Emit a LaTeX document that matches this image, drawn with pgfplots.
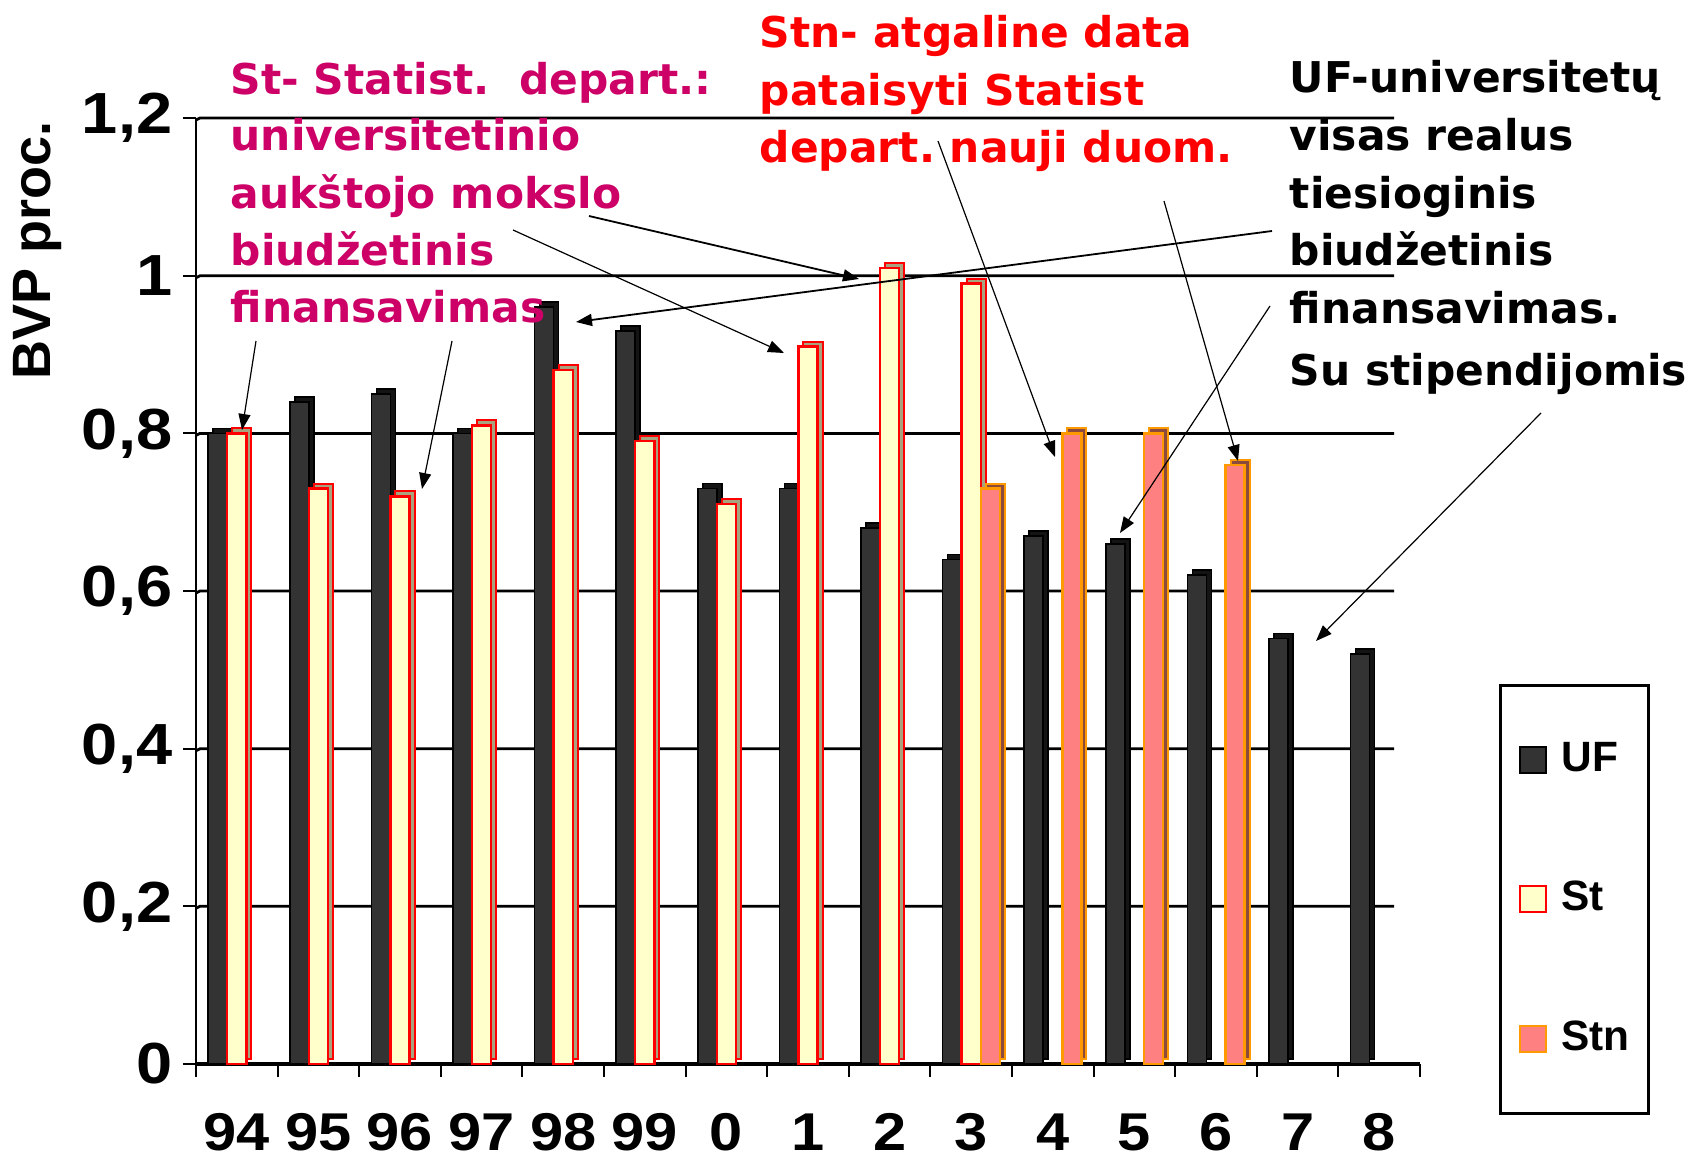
\documentclass[border=0pt]{standalone}
\usepackage{pgfplots}
\pgfplotsset{compat=1.18}
\usepackage{pgfplotstable}
\usepackage{fontspec}
\setmainfont{Liberation Sans}
\newfontfamily\dv{DejaVu Sans}
\newfontfamily\numf{Liberation Sans}[FakeStretch=1.12]
\usetikzlibrary{arrows.meta}
\definecolor{ufc}{HTML}{333333}
\definecolor{stc}{HTML}{FFFFCC}
\definecolor{stnc}{HTML}{FF8080}
\definecolor{stnedge}{HTML}{FF9900}
\definecolor{mag}{HTML}{CC0066}
\definecolor{stside}{HTML}{A8A27E}
\definecolor{stnside}{HTML}{8C4A3C}
\frenchspacing

\pgfplotstableread{
x y
0 0.80
1 0.84
2 0.85
3 0.80
4 0.96
5 0.93
6 0.73
7 0.73
8 0.68
9 0.64
10 0.67
11 0.66
12 0.62
13 0.54
14 0.52
}\uf
\pgfplotstableread{
x y
0 0.80
1 0.73
2 0.72
3 0.81
4 0.88
5 0.79
6 0.71
7 0.91
8 1.01
9 0.99
}\st
\pgfplotstableread{
x y
9 0.73
10 0.80
11 0.80
12 0.76
}\stn

\begin{document}
\begin{tikzpicture}
\begin{scope}[x=0.25pt,y=-0.25pt]
\useasboundingbox (0,0) rectangle (1694,1156);
\coordinate (O) at (196,1064);
% back-wall gridlines
\foreach \g in {906.3,748.7,591.0,433.4,275.7,118.0} {
  \draw[line width=0.7pt] (196,\g+2) -- (200,\g) -- (1394,\g);
}
\end{scope}
\begin{axis}[
  at={(O)}, anchor=south west,
  scale only axis, width=306pt, height=236.5pt,
  xmin=-0.5, xmax=14.5, ymin=0, ymax=1.2,
  axis lines=left, axis line style={-},
  x axis line style={line width=0.8pt},
  y axis line style={line width=0.5pt},
  ybar=0pt, bar width=0.233,
  ytick={0,0.2,0.4,0.6,0.8,1,1.2},
  yticklabels={0,{0,2},{0,4},{0,6},{0,8},1,{1,2}},
  xtick={-0.5,0.5,...,14.5},
  x tick label as interval,
  xticklabels={94,95,96,97,98,99,0,1,2,3,4,5,6,7,8},
  tick align=outside,
  major tick length=3.25pt,
  every tick/.style={black, line width=0.5pt},
  xticklabel style={font=\numf\bfseries\fontsize{13.3}{14}\selectfont, anchor=north, inner sep=0pt, yshift=-9pt},
  yticklabel style={font=\numf\bfseries\fontsize{14.5}{15}\selectfont, anchor=east, inner sep=0pt, xshift=-2.5pt},
  legend style={at={(1.0644,0.4017)}, anchor=north west, draw=black, line width=0.7pt,
    inner xsep=4.7pt, inner ysep=14.2pt, row sep=26pt, column sep=3.5pt,
    font=\bfseries\fontsize{10.6}{11}\selectfont, nodes={inner sep=0pt}},
  legend cell align=left,
  sq/.style={legend image code/.code={\draw[##1, line width=0.6pt] (0pt,-3.25pt) rectangle (6.5pt,3.25pt);}},
]
\addplot[forget plot, fill=black!92, draw=black, line width=0.4pt, bar shift=-0.233, xshift=1.25pt, yshift=1.25pt] table[x=x,y=y] {\uf};
\addplot[forget plot, fill=stside, draw=red, line width=0.5pt, bar shift=0, xshift=1.25pt, yshift=1.25pt] table[x=x,y=y] {\st};
\addplot[forget plot, fill=stnside, draw=stnedge, line width=0.5pt, bar shift=0.233, xshift=1.25pt, yshift=1.25pt] table[x=x,y=y] {\stn};
\addplot[fill=ufc, draw=black, line width=0.4pt, bar shift=-0.233, sq] table[x=x,y=y] {\uf};
\addplot[fill=stc, draw=red, line width=0.6pt, bar shift=0, sq] table[x=x,y=y] {\st};
\addplot[fill=stnc, draw=stnedge, line width=0.6pt, bar shift=0.233, sq] table[x=x,y=y] {\stn};
\legend{UF,St,Stn}
\end{axis}
\begin{scope}[x=0.25pt,y=-0.25pt]
% y label
\node[rotate=90, font=\bfseries\fontsize{13.5}{14}\selectfont] at (38,250) {BVP proc.};
% annotations
\tikzset{ann/.style={anchor=base west, inner sep=0pt, font=\dv\bfseries\fontsize{10.6}{12}\selectfont}}
\node[ann, text=mag] at (230,94) {St- Statist.\ \ depart.:};
\node[ann, text=mag] at (230,151) {universitetinio};
\node[ann, text=mag] at (230,208) {aukštojo mokslo};
\node[ann, text=mag] at (230,265) {biudžetinis};
\node[ann, text=mag] at (230,322) {finansavimas};
\node[ann, text=red] at (759,48) {Stn- atgaline data};
\node[ann, text=red] at (759,106) {pataisyti Statist};
\node[ann, text=red] at (759,162) {depart. nauji duom.};
\node[ann] at (1289,93) {UF-universitetų};
\node[ann] at (1289,151) {visas realus};
\node[ann] at (1289,208) {tiesioginis};
\node[ann] at (1289,265) {biudžetinis};
\node[ann] at (1289,323) {finansavimas.};
\node[ann] at (1289,385) {Su stipendijomis};
% arrows
\tikzset{arr/.style={line width=0.3pt, -{Triangle[length=4pt,width=3pt]}}}
\draw[arr] (256,341) -- (242,430);
\draw[arr] (452,341) -- (422,489);
\draw[arr, line width=0.45pt] (589,216) -- (859,279);
\draw[arr] (513,230) -- (784,353);
\draw[arr, line width=0.45pt] (1272,231) -- (576,322);
\draw[arr] (938,141) -- (1055,457);
\draw[arr] (1164,201) -- (1238,461);
\draw[arr] (1270,306) -- (1120,533);
\draw[arr] (1541,413) -- (1316,641);
\end{scope}
\end{tikzpicture}
\end{document}
